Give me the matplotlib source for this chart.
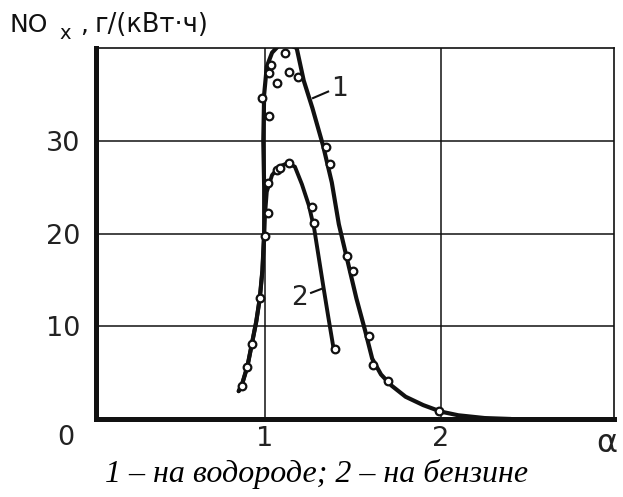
import matplotlib
matplotlib.use("Agg")
import matplotlib.pyplot as plt

plt.rcParams['font.family'] = ['DejaVu Sans']

# ---- data ----
# curve 1: hydrogen (line vertices)
h2_line_x = [0.85, 0.87, 0.90, 0.925, 0.95, 0.97, 0.985, 0.995, 0.995, 0.99, 0.995, 1.01, 1.04,
             1.08, 1.13, 1.18, 1.22, 1.27, 1.33, 1.38, 1.42, 1.47, 1.52, 1.57, 1.61, 1.66, 1.72,
             1.8, 1.9, 2.0, 2.1, 2.25, 2.4]
h2_line_y = [3.0, 3.8, 5.7, 8.1, 10.5, 13.0, 16.0, 20.0, 25.0, 30.0, 35.0, 38.0, 39.5,
             40.3, 40.4, 40.0, 36.5, 33.5, 29.5, 25.5, 21.0, 17.0, 13.0, 9.5, 6.5, 4.8, 3.6,
             2.4, 1.5, 0.8, 0.4, 0.1, 0.0]
# curve 1 measured points
h2_pts_x = [0.867, 0.896, 0.924, 0.972, 1.0, 1.023, 0.985, 1.067, 1.023, 1.034, 1.114, 1.137,
            1.188, 1.347, 1.370, 1.465, 1.499, 1.594, 1.616, 1.702, 1.992]
h2_pts_y = [3.6, 5.6, 8.1, 13.0, 19.7, 32.7, 34.6, 36.2, 37.3, 38.2, 39.5, 37.4,
            36.9, 29.3, 27.5, 17.6, 16.0, 8.9, 5.8, 4.1, 0.9]

# curve 2: gasoline (line vertices)
gas_line_x = [0.85, 0.87, 0.90, 0.925, 0.95, 0.97, 0.985, 0.995, 1.0, 1.01, 1.04, 1.08, 1.13,
              1.17, 1.21, 1.25, 1.28, 1.33, 1.36, 1.39]
gas_line_y = [3.0, 3.8, 5.7, 8.1, 10.5, 13.0, 16.0, 20.0, 22.0, 24.5, 26.3, 27.2, 27.6,
              27.2, 25.3, 23.0, 20.5, 14.5, 11.0, 7.6]
# curve 2 measured points
gas_pts_x = [1.015, 1.017, 1.067, 1.085, 1.137, 1.266, 1.279, 1.398]
gas_pts_y = [22.2, 25.4, 26.8, 27.1, 27.6, 22.9, 21.1, 7.6]

x_ticks = [1, 2]
x_tick_labels = ['1', '2']
y_ticks = [10, 20, 30]
y_tick_labels = ['10', '20', '30']

curve_labels = ['1', '2']
y_title_main = 'NO'
y_title_sub = 'x'
y_title_comma = ','
y_title_unit = 'г/(кВт·ч)'
x_axis_title = 'α'
origin_label = '0'
caption = '1 – на водороде; 2 – на бензине'

# ---- figure ----
W, H = 623, 497
fig = plt.figure(figsize=(W / 100, H / 100), dpi=100)
ax = fig.add_axes([96 / W, 1 - 419 / H, (614 - 96) / W, (419 - 48) / H])
ax.set_xlim(0.038, 2.986)
ax.set_ylim(0, 40)

ink = '#111111'
txt = '#222222'
ax.set_xticks(x_ticks)
ax.set_yticks(y_ticks)
ax.set_xticklabels(x_tick_labels, fontsize=19.5, color=txt)
ax.set_yticklabels(y_tick_labels, fontsize=19.5, color=txt)
ax.tick_params(axis='both', length=0)
ax.tick_params(axis='y', pad=11)
ax.tick_params(axis='x', pad=5)
ax.grid(True, color=ink, linewidth=1.1)
ax.set_axisbelow(True)

for s in ['left', 'bottom']:
    ax.spines[s].set_linewidth(3.6)
    ax.spines[s].set_color(ink)
for s in ['top', 'right']:
    ax.spines[s].set_linewidth(1.2)
    ax.spines[s].set_color(ink)

ax.plot(h2_line_x, h2_line_y, color=ink, linewidth=3.0, solid_capstyle='round',
        solid_joinstyle='round', zorder=3)
ax.plot(gas_line_x, gas_line_y, color=ink, linewidth=2.8, solid_capstyle='round',
        solid_joinstyle='round', zorder=3)
ax.plot(h2_pts_x, h2_pts_y, linestyle='none', marker='o', markersize=5.5,
        markerfacecolor='white', markeredgecolor=ink, markeredgewidth=1.6, zorder=4)
ax.plot(gas_pts_x, gas_pts_y, linestyle='none', marker='o', markersize=5.5,
        markerfacecolor='white', markeredgecolor=ink, markeredgewidth=1.6, zorder=4)

# curve labels with leaders
ax.plot([1.273, 1.359], [34.6, 35.3], color=ink, linewidth=1.5, zorder=3)
ax.text(1.375, 35.6, curve_labels[0], fontsize=19, color=txt, ha='left', va='center')
ax.plot([1.262, 1.331], [13.6, 14.1], color=ink, linewidth=1.5, zorder=3)
ax.text(1.245, 13.0, curve_labels[1], fontsize=19, color=txt, ha='right', va='center')

# origin label, axis titles, caption
fig.text(66 / W, 1 - 438 / H, origin_label, fontsize=19.5, color=txt, ha='center',
         va='center')
fig.text(607 / W, 1 - 452 / H, x_axis_title, fontsize=23, color=txt, ha='center',
         va='baseline')

base_y = 1 - 31.7 / H
fig.text(10 / W, base_y, y_title_main, fontsize=18, color=ink, ha='left', va='baseline')
fig.text(59 / W, 1 - 39 / H, y_title_sub, fontsize=14, color=ink, ha='left', va='baseline')
fig.text(80 / W, base_y, y_title_comma, fontsize=18, color=ink, ha='left', va='baseline')
fig.text(95 / W, base_y, y_title_unit, fontsize=18.5, color=ink, ha='left', va='baseline')

fig.text(317 / W, 1 - 482 / H, caption, fontsize=23, style='italic',
         family=['Liberation Serif'], color='black', ha='center', va='baseline')

fig.savefig('out.png', dpi=100)
